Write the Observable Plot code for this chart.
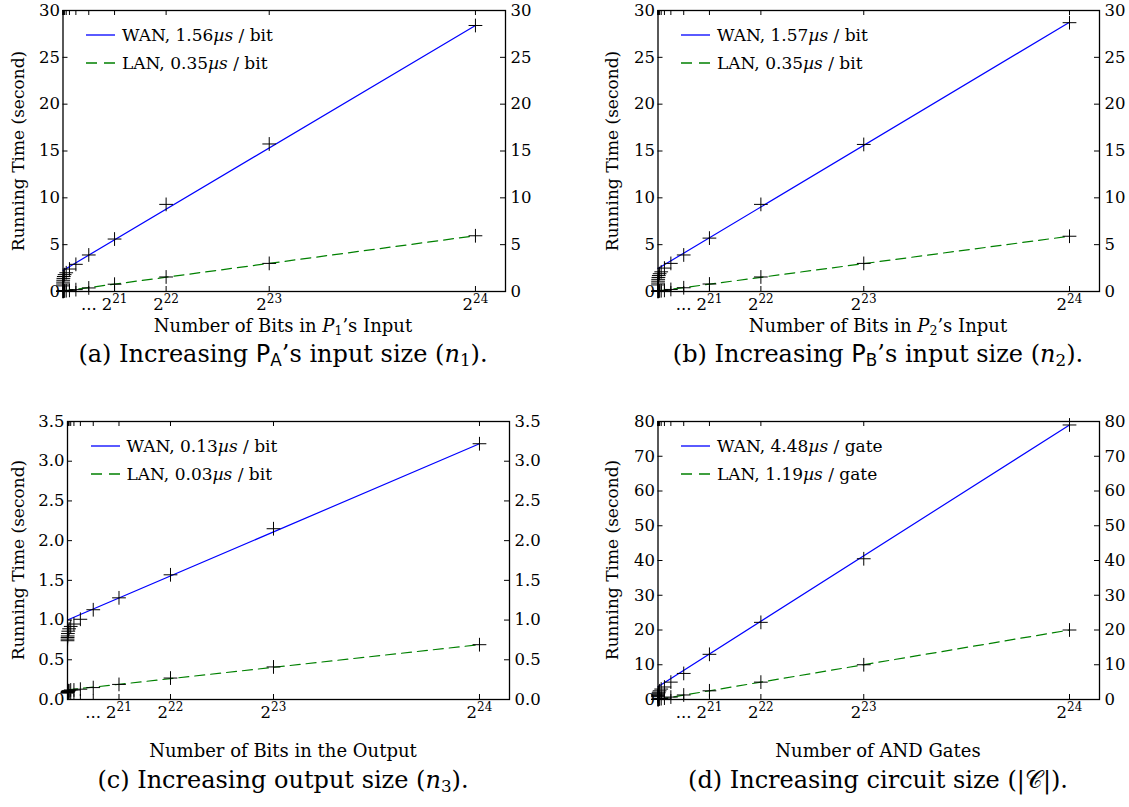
<!DOCTYPE html>
<html><head><meta charset="utf-8">
<script src="https://cdn.jsdelivr.net/npm/d3@7"></script>
<script src="https://cdn.jsdelivr.net/npm/@observablehq/plot@0.6"></script>
<style>
body{margin:0;background:#fff;}
#root{position:relative;width:1129px;height:807px;font-family:"DejaVu Serif",serif;color:#000;overflow:hidden;background:#fff}
.abs{position:absolute;white-space:nowrap;line-height:1}
.c{transform:translate(-50%,-50%)}
.rot{transform:translate(-50%,-50%) rotate(-90deg)}
.sf{font-family:"DejaVu Sans",sans-serif}
sub{font-size:70%;vertical-align:-0.25em;line-height:0}
svg{position:absolute}
</style></head><body><div id="root"></div>
<script>
// ---- data ----
const exponents = [10,11,12,13,14,15,16,17,18,19,20,21,22,23,24];
const xMax = 1.8e7;
const xLabelValues = [2**20, 2**21, 2**22, 2**23, 2**24];
const xLabelText = ["...", "2^21", "2^22", "2^23", "2^24"];
const fitX = [0, 2**24];

const wanA = [0.6,0.8,1.0,1.2,1.4,1.6,1.8,2.0,2.4,2.9,3.9,5.6,9.3,15.75,28.4];
const lanA = [0.02,0.02,0.03,0.03,0.04,0.05,0.06,0.08,0.12,0.2,0.38,0.78,1.55,3.0,5.95];
const wanFitA = [2.25, 28.4];
const lanFitA = [0.05, 5.95];

const wanB = [0.7,0.9,1.1,1.3,1.5,1.7,1.9,2.1,2.5,3.0,3.9,5.7,9.3,15.7,28.7];
const lanB = [0.02,0.02,0.03,0.03,0.04,0.05,0.06,0.08,0.12,0.22,0.4,0.8,1.55,3.0,5.9];
const wanFitB = [2.45, 28.75];
const lanFitB = [0.05, 5.9];

const wanC = [0.74,0.76,0.78,0.8,0.83,0.86,0.89,0.92,0.95,1.01,1.13,1.28,1.57,2.15,3.22];
const lanC = [0.08,0.09,0.09,0.1,0.1,0.11,0.11,0.12,0.12,0.13,0.15,0.19,0.27,0.41,0.69];
const wanFitC = [1.0, 3.22];
const lanFitC = [0.12, 0.69];

const wanD = [0.8,1.0,1.2,1.5,1.8,2.1,2.5,3.0,3.6,5.0,7.5,13.0,22.2,40.5,79.0];
const lanD = [0.02,0.03,0.04,0.05,0.07,0.1,0.15,0.25,0.4,0.7,1.3,2.5,5.0,10.0,20.0];
const wanFitD = [3.7, 79.0];
const lanFitD = [0.0, 20.0];

const yTicksAB = [0,5,10,15,20,25,30];
const yTicksC = [0,0.5,1.0,1.5,2.0,2.5,3.0,3.5];
const yTicksD = [0,10,20,30,40,50,60,70,80];

const legendWan = ["WAN, 1.56<i>µs</i> / bit","WAN, 1.57<i>µs</i> / bit","WAN, 0.13<i>µs</i> / bit","WAN, 4.48<i>µs</i> / gate"];
const legendLan = ["LAN, 0.35<i>µs</i> / bit","LAN, 0.35<i>µs</i> / bit","LAN, 0.03<i>µs</i> / bit","LAN, 1.19<i>µs</i> / gate"];
const xTitles = ["Number of Bits in <i>P</i><sub>1</sub>’s Input","Number of Bits in <i>P</i><sub>2</sub>’s Input","Number of Bits in the Output","Number of AND Gates"];
const captions = [
  "(a) Increasing <span class='sf'>P<sub>A</sub></span>’s input size (<i>n</i><sub>1</sub>).",
  "(b) Increasing <span class='sf'>P<sub>B</sub></span>’s input size (<i>n</i><sub>2</sub>).",
  "(c) Increasing output size (<i>n</i><sub>3</sub>).",
  "(d) Increasing circuit size (|𝒞|)."
];
const yTitle = "Running Time (second)";

// ---- layout ----
const panels = [
  {wan:wanA, lan:lanA, wf:wanFitA, lf:lanFitA, yt:yTicksAB, fmt:d=>String(d), L:62.5, T:10, iw:442.5, ih:281, sx:0, cx:283, xly:326, cy:354, ylx:18},
  {wan:wanB, lan:lanB, wf:wanFitB, lf:lanFitB, yt:yTicksAB, fmt:d=>String(d), L:657.5, T:10, iw:441.5, ih:281, sx:595, cx:878, xly:326, cy:354, ylx:612},
  {wan:wanC, lan:lanC, wf:wanFitC, lf:lanFitC, yt:yTicksC, fmt:d3.format(".1f"), L:67, T:421, iw:442, ih:278, sx:0, cx:283, xly:751, cy:780, ylx:18},
  {wan:wanD, lan:lanD, wf:wanFitD, lf:lanFitD, yt:yTicksD, fmt:d=>String(d), L:657.5, T:421, iw:441.5, ih:278, sx:595, cx:878, xly:751, cy:780, ylx:612}
];

const root = document.getElementById("root");
const labelMap = new Map(xLabelValues.map((v,i)=>[v, xLabelText[i]]));
const xt = exponents.map(e=>2**e);
const tl = 5;

function addDiv(cls, html, x, y, extra=""){
  const d = document.createElement("div");
  d.className = "abs " + cls;
  d.style.cssText = `left:${x}px;top:${y}px;${extra}`;
  d.innerHTML = html;
  root.appendChild(d);
  return d;
}

panels.forEach((p, k) => {
  const ml = p.L - p.sx, mt = 10, mr = 45, mb = 30;
  const pts = exponents.map((e,i)=>({x:2**e, wan:p.wan[i], lan:p.lan[i]}));
  const fit = fitX.map((x,i)=>({x, wan:p.wf[i], lan:p.lf[i]}));
  const yMax = p.yt[p.yt.length-1];
  const chart = Plot.plot({
    width: ml + p.iw + mr, height: mt + p.ih + mb,
    marginLeft: ml, marginRight: mr, marginTop: mt, marginBottom: mb,
    x: {domain:[0, xMax]}, y: {domain:[0, yMax]},
    style: {fontFamily:"DejaVu Serif", fontSize:"16.5px", background:"transparent", color:"black", overflow:"visible"},
    marks: [
      Plot.line(fit, {x:"x", y:"wan", stroke:"#0000ff", strokeWidth:1.2}),
      Plot.line(fit, {x:"x", y:"lan", stroke:"#008000", strokeWidth:1.2, strokeDasharray:"10,6"}),
      Plot.dot(pts, {x:"x", y:"wan", symbol:"plus", r:4.5, stroke:"black", strokeWidth:1}),
      Plot.dot(pts, {x:"x", y:"lan", symbol:"plus", r:4.5, stroke:"black", strokeWidth:1}),
      Plot.tickX(xt, {x:d=>d, insetBottom:p.ih - tl, stroke:"black"}),
      Plot.tickX(xt, {x:d=>d, insetTop:p.ih - tl, stroke:"black"}),
      Plot.tickY(p.yt, {y:d=>d, insetRight:p.iw - tl, stroke:"black"}),
      Plot.tickY(p.yt, {y:d=>d, insetLeft:p.iw - tl, stroke:"black"}),
      Plot.frame({stroke:"black", strokeWidth:1.3}),
      Plot.axisX(xLabelValues, {anchor:"bottom", tickSize:0, tickPadding:7, tickFormat:d=>labelMap.get(d), label:null}),
      Plot.axisY(p.yt, {anchor:"left", tickSize:0, tickPadding:3, tickFormat:p.fmt, label:null}),
      Plot.axisY(p.yt, {anchor:"right", tickSize:0, tickPadding:5, tickFormat:p.fmt, label:null})
    ]
  });
  // render "2^nn" tick labels with real superscripts
  chart.querySelectorAll("text").forEach(t => {
    const s = t.textContent;
    const m = /^(\d+)\^(\d+)$/.exec(s);
    if (m) {
      t.textContent = "";
      const base = document.createElementNS("http://www.w3.org/2000/svg","tspan");
      base.textContent = m[1];
      const sup = document.createElementNS("http://www.w3.org/2000/svg","tspan");
      sup.textContent = m[2];
      sup.setAttribute("font-size","12px");
      sup.setAttribute("dy","-0.6em");
      t.appendChild(base); t.appendChild(sup);
    }
  });
  chart.style.left = p.sx + "px";
  chart.style.top = (p.T - mt) + "px";
  root.appendChild(chart);

  // axis titles and caption
  addDiv("rot", yTitle, p.ylx, p.T + p.ih/2, "font-size:17px");
  addDiv("c", xTitles[k], p.cx, p.xly, "font-size:18px");
  addDiv("c", captions[k], p.cx, p.cy, "font-size:24px");

  // legend
  const y1 = p.T + 25, y2 = p.T + 53;
  addDiv("", `<svg width="30" height="4" style="position:static;display:block"><line x1="0" y1="2" x2="29" y2="2" stroke="#0000ff" stroke-width="1.3"/></svg>`, p.L + 23.5, y1 - 2);
  addDiv("", `<svg width="30" height="4" style="position:static;display:block"><line x1="0" y1="2" x2="29" y2="2" stroke="#008000" stroke-width="1.3" stroke-dasharray="11,7"/></svg>`, p.L + 23.5, y2 - 2);
  addDiv("", legendWan[k], p.L + 59.5, y1, "font-size:17px;transform:translateY(-50%)");
  addDiv("", legendLan[k], p.L + 59.5, y2, "font-size:17px;transform:translateY(-50%)");
});
</script>
</body></html>
